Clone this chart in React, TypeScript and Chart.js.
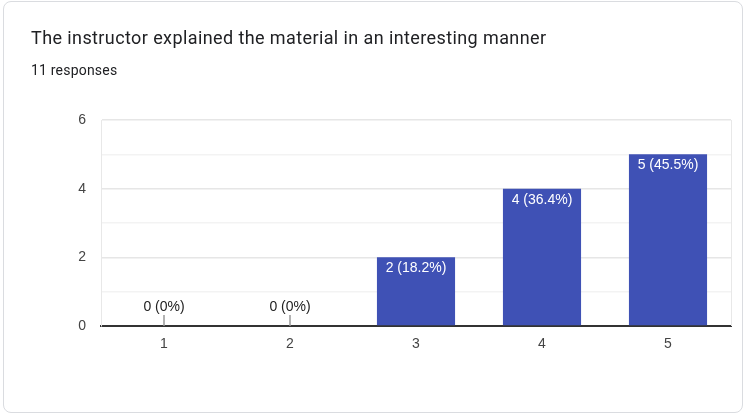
import React, { useEffect, useRef } from "react";
import { Chart, registerables } from "chart.js";

Chart.register(...registerables);

const TITLE = "The instructor explained the material in an interesting manner";
const SUBTITLE = "11 responses";
const categories = ["1", "2", "3", "4", "5"];
const counts = [0, 0, 2, 4, 5];
const yTickLabels = [0, 2, 4, 6];

const FONT = "Roboto, Arial, sans-serif";
const CHART_FONT = "'Liberation Sans', Arial, sans-serif";

const labelPlugin = {
  id: "barLabels",
  afterDatasetsDraw(chart: any) {
    const ctx = chart.ctx;
    const meta = chart.getDatasetMeta(0);
    const total = counts.reduce((a, b) => a + b, 0);
    const area = chart.chartArea;
    ctx.save();
    // right border line
    ctx.strokeStyle = "#e8e8e8";
    ctx.lineWidth = 1;
    ctx.beginPath();
    ctx.moveTo(area.right + 0.5, area.top);
    ctx.lineTo(area.right + 0.5, area.bottom);
    ctx.stroke();
    ctx.font = `14px ${CHART_FONT}`;
    ctx.textAlign = "center";
    ctx.textBaseline = "middle";
    meta.data.forEach((bar: any, i: number) => {
      const v = counts[i];
      const pct = total ? (v / total) * 100 : 0;
      const pctStr = v === 0 ? "0" : pct.toFixed(1).replace(/\.0$/, "");
      const text = `${v} (${pctStr}%)`;
      if (v > 0) {
        ctx.fillStyle = "#ffffff";
        ctx.fillText(text, bar.x, bar.y + 11);
      } else {
        ctx.fillStyle = "#222222";
        ctx.fillText(text, bar.x, area.bottom - 19);
        ctx.strokeStyle = "#999999";
        ctx.lineWidth = 1.5;
        ctx.beginPath();
        ctx.moveTo(bar.x, area.bottom - 11);
        ctx.lineTo(bar.x, area.bottom);
        ctx.stroke();
      }
    });
    ctx.restore();
  },
};

export default function App() {
  const ref = useRef<HTMLCanvasElement>(null);
  useEffect(() => {
    if (!ref.current) return;
    const chart = new Chart(ref.current, {
      type: "bar",
      data: {
        labels: categories,
        datasets: [
          {
            data: counts,
            backgroundColor: "#3f51b5",
            categoryPercentage: 0.62,
            barPercentage: 1,
          },
        ],
      },
      options: {
        animation: false,
        responsive: false,
        maintainAspectRatio: false,
        events: [],
        layout: { padding: { left: 0, right: 14, top: 120, bottom: 62 } },
        plugins: {
          legend: { display: false },
          tooltip: { enabled: false },
          title: { display: false },
        },
        scales: {
          x: {
            grid: { display: false, drawTicks: false },
            border: { display: true, color: "#333333", width: 2 },
            ticks: {
              color: "#444444",
              font: { family: CHART_FONT, size: 14 },
              padding: 10,
            },
            afterFit(scale: any) {
              scale.height = 30;
            },
          },
          y: {
            min: 0,
            max: 6,
            grid: {
              drawTicks: false,
              color: (c: any) => {
                const v = c.tick ? c.tick.value : 0;
                if (v === 0) return "rgba(0,0,0,0)";
                return v % 2 === 0 ? "#e6e6e6" : "#f3f3f3";
              },
              lineWidth: 1.5,
            },
            border: { display: true, color: "#e8e8e8", width: 1 },
            ticks: {
              stepSize: 1,
              color: "#444444",
              font: { family: CHART_FONT, size: 14 },
              padding: 15,
              callback: (v: any) => (yTickLabels.includes(Number(v)) ? String(v) : ""),
            },
            afterFit(scale: any) {
              scale.width = 101;
            },
          },
        },
      },
      plugins: [labelPlugin],
    });
    return () => chart.destroy();
  }, []);

  return (
    <div style={{ position: "fixed", left: 0, top: 0, width: 745, height: 418, background: "#ffffff" }}>
      <div
        style={{
          position: "absolute",
          left: 3,
          top: 1,
          width: 738,
          height: 410,
          border: "1px solid #dadce0",
          borderRadius: 8,
          boxSizing: "content-box",
        }}
      />
      <canvas ref={ref} width={745} height={418} style={{ position: "absolute", left: 0, top: 0 }} />
      <div
        style={{
          position: "absolute",
          left: 31,
          top: 26,
          fontFamily: FONT,
          fontSize: 18,
          color: "#202124",
          letterSpacing: 0.4,
          lineHeight: "24px",
          whiteSpace: "nowrap",
        }}
      >
        {TITLE}
      </div>
      <div
        style={{
          position: "absolute",
          left: 31,
          top: 60,
          fontFamily: FONT,
          fontSize: 14,
          color: "#202124",
          letterSpacing: 0.2,
          lineHeight: "20px",
          whiteSpace: "nowrap",
        }}
      >
        {SUBTITLE}
      </div>
    </div>
  );
}
